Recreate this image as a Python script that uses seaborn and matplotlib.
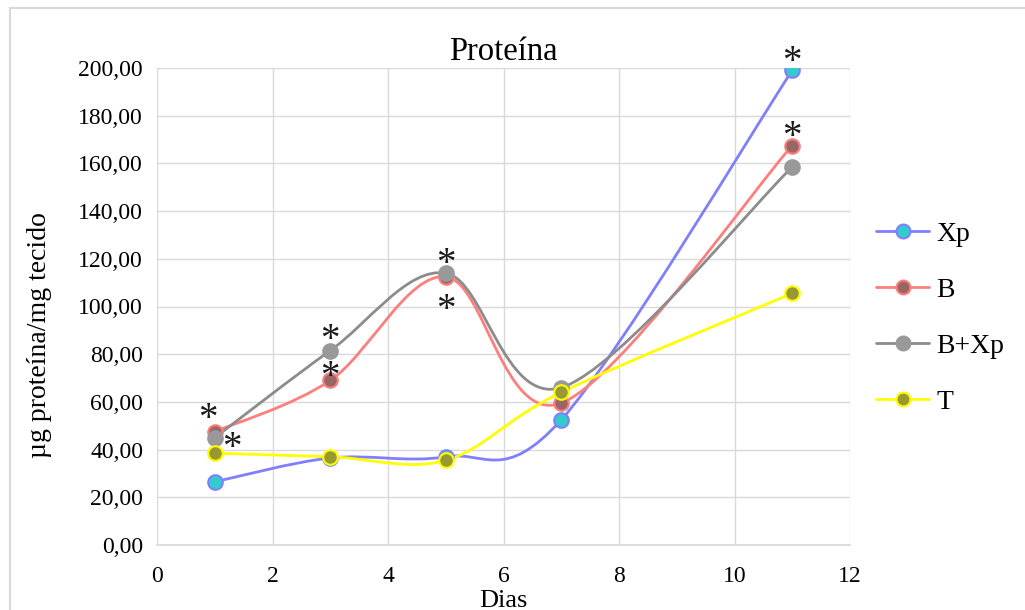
import numpy as np
import pandas as pd
import matplotlib
matplotlib.use("Agg")
import matplotlib.pyplot as plt
import seaborn as sns
from matplotlib.path import Path
from matplotlib.patches import PathPatch
from matplotlib.lines import Line2D
from matplotlib.ticker import FuncFormatter

days = [1, 3, 5, 7, 11]
xp = [26.5, 36.5, 37.0, 52.5, 199.0]
b = [47.5, 69.0, 112.5, 59.5, 167.5]
bxp = [45.0, 81.5, 114.0, 66.0, 158.5]
t = [38.5, 37.0, 35.5, 64.0, 105.5]
series_names = ["Xp", "B", "B+Xp", "T"]
title = "Proteína"
ylabel = "µg proteína/mg tecido"
xlabel = "Dias"
# asterisk annotations: (day, value, dx_pt, dy_pt)
stars = [(1, 47.5, -5, 9), (1, 45.0, 12, -8), (3, 81.5, 0, 7), (3, 69.0, 0, 2),
         (5, 114.0, 0, 6), (5, 112.5, 0, -24), (11, 199.0, 0, 6), (11, 167.5, 0, 6)]

line_colors = ["#7F7FFF", "#FF7F7F", "#8C8C8C", "#FFFF00"]
face_colors = ["#33CCCC", "#996666", "#999999", "#999933"]
edge_colors = ["#7F7FFF", "#FF7F7F", "#999999", "#FFFF00"]

sns.set_theme(style="whitegrid")
plt.rcParams['font.family'] = ['Liberation Serif', 'DejaVu Serif']
plt.rcParams['text.color'] = 'black'
plt.rcParams['axes.labelcolor'] = 'black'

fig = plt.figure(figsize=(10.25, 6.10), dpi=100)
ax = fig.add_axes([157/1025, 1-545/610, (850-157)/1025, (545-68)/610])

def smooth_path(x, y):
    x = np.asarray(x, float); y = np.asarray(y, float)
    n = len(x)
    verts = [(x[0], y[0])]
    codes = [Path.MOVETO]
    for i in range(n - 1):
        p0 = np.array([x[max(i-1, 0)], y[max(i-1, 0)]])
        p1 = np.array([x[i], y[i]])
        p2 = np.array([x[i+1], y[i+1]])
        p3 = np.array([x[min(i+2, n-1)], y[min(i+2, n-1)]])
        c1 = p1 + (p2 - p0) / 6
        c2 = p2 - (p3 - p1) / 6
        verts += [tuple(c1), tuple(c2), tuple(p2)]
        codes += [Path.CURVE4] * 3
    return Path(verts, codes)

all_vals = [xp, b, bxp, t]
rows = []
for name, vals in zip(series_names, all_vals):
    for d, v in zip(days, vals):
        rows.append({"Dias": d, "valor": v, "serie": name})
df = pd.DataFrame(rows)

for i, (name, vals) in enumerate(zip(series_names, all_vals)):
    patch = PathPatch(smooth_path(days, vals), facecolor="none", edgecolor=line_colors[i], lw=2, zorder=2+i*0.1)
    ax.add_patch(patch)

for i, name in enumerate(series_names):
    sub = df[df.serie == name]
    sns.scatterplot(data=sub, x="Dias", y="valor", ax=ax, s=110, color=face_colors[i],
                    edgecolor=edge_colors[i], linewidth=1.5, zorder=5, legend=False)

for d, v, dx, dy in stars:
    ax.annotate("*", (d, v), xytext=(dx, dy), textcoords="offset points", ha="center", va="center",
                fontsize=28, color="#1a1a1a", zorder=6)

ax.set_xlim(0, 12)
ax.set_ylim(0, 200)
ax.set_xticks(range(0, 13, 2))
ax.set_yticks(range(0, 201, 20))
ax.yaxis.set_major_formatter(FuncFormatter(lambda v, p: f"{v:.2f}".replace(".", ",")))
ax.tick_params(labelsize=17, colors="black", length=0)
ax.tick_params(axis="y", pad=10)
ax.tick_params(axis="x", pad=15)
ax.grid(True, color="#D9D9D9", lw=1)
for s in ["top", "right", "left"]:
    ax.spines[s].set_visible(False)
ax.spines["bottom"].set_color("#D9D9D9")
ax.set_facecolor("white")
ax.set_xlabel(xlabel, fontsize=19, labelpad=2)
ax.set_ylabel(ylabel, fontsize=20)
ax.yaxis.set_label_coords(-0.152, 0.44)
ax.set_title(title, fontsize=23.5, pad=6)

handles = [Line2D([0], [0], color=line_colors[i], lw=2, marker="o", markersize=10,
                  markerfacecolor=face_colors[i], markeredgecolor=edge_colors[i], markeredgewidth=1.5)
           for i in range(4)]
fig.legend(handles, series_names, loc="center left", bbox_to_anchor=(868/1025, 1-318/610),
           frameon=False, fontsize=20, labelspacing=1.1, handlelength=1.9, handletextpad=0.25,
           borderaxespad=0, borderpad=0.3)

fig.patch.set_facecolor("white")
fig.add_artist(Line2D([10/1025, 10/1025], [0, 1-8/610], transform=fig.transFigure, color="#D9D9D9", lw=1.5))
fig.add_artist(Line2D([10/1025, 1], [1-8/610, 1-8/610], transform=fig.transFigure, color="#D9D9D9", lw=1.5))
fig.savefig("out.png", dpi=100, facecolor="white")
